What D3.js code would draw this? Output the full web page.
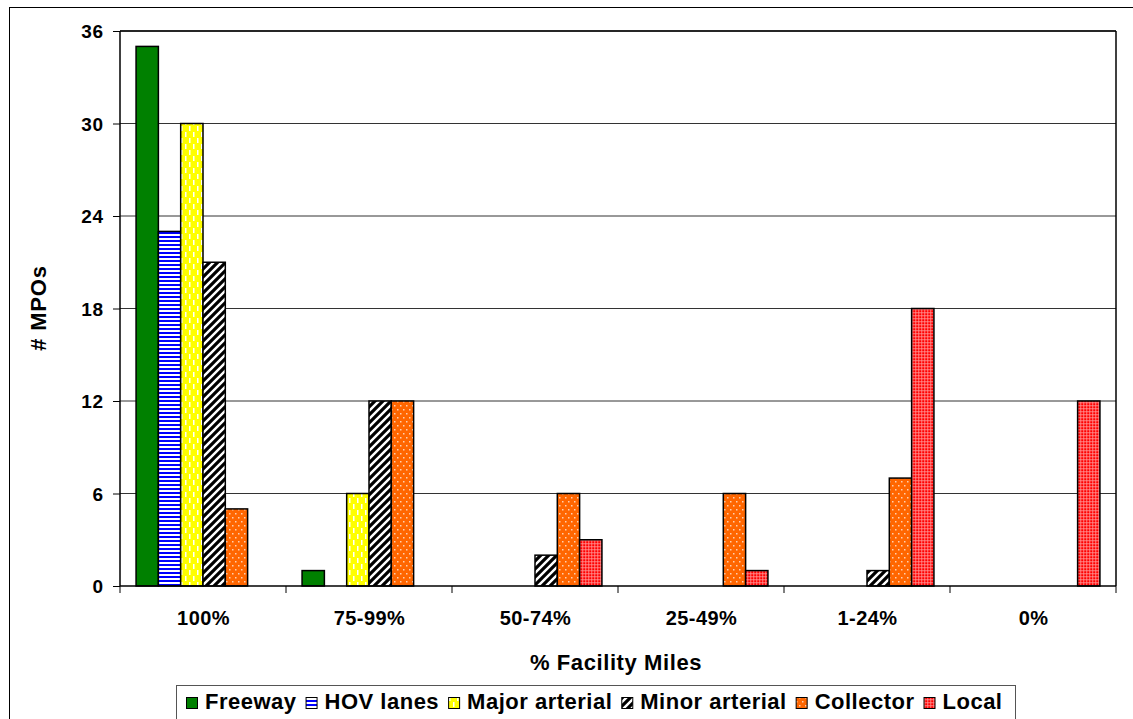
<!DOCTYPE html>
<html><head><meta charset="utf-8">
<script src="https://cdn.jsdelivr.net/npm/d3@7"></script>
<style>body{margin:0;background:#fff;}svg{display:block;font-family:"Liberation Sans",Arial,sans-serif;}</style>
</head><body>
<script>
const categories = ["100%","75-99%","50-74%","25-49%","1-24%","0%"];
const seriesNames = ["Freeway","HOV lanes","Major arterial","Minor arterial","Collector","Local"];
const freeway   = [35, 1, 0, 0, 0, 0];
const hovLanes  = [23, 0, 0, 0, 0, 0];
const majorArt  = [30, 6, 0, 0, 0, 0];
const minorArt  = [21, 12, 2, 0, 1, 0];
const collector = [5, 12, 6, 6, 7, 0];
const local     = [0, 0, 3, 1, 18, 12];
const yTicks = [0, 6, 12, 18, 24, 30, 36];
const seriesValues = [freeway, hovLanes, majorArt, minorArt, collector, local];

const W = 1133, H = 719;
const svg = d3.select("body").append("svg").attr("width", W).attr("height", H);
const defs = svg.append("defs");

function pat(id, w, h) {
  return defs.append("pattern").attr("id", id).attr("patternUnits", "userSpaceOnUse").attr("width", w).attr("height", h);
}
let p = pat("pHOV", 4, 4);
p.append("rect").attr("width", 4).attr("height", 4).attr("fill", "#fff");
p.append("rect").attr("width", 4).attr("height", 2).attr("fill", "#0000ff");
p = pat("pMaj", 8, 12);
p.append("rect").attr("width", 8).attr("height", 12).attr("fill", "#ffff00");
p.append("rect").attr("x", 1).attr("y", 0).attr("width", 1.5).attr("height", 5).attr("fill", "#fff");
p.append("rect").attr("x", 5).attr("y", 6).attr("width", 1.5).attr("height", 5).attr("fill", "#fff");
p = pat("pMin", 8, 8);
p.append("rect").attr("width", 8).attr("height", 8).attr("fill", "#fff");
p.append("path").attr("d", "M-2,2 L2,-2 M0,8 L8,0 M6,10 L10,6").attr("stroke", "#000").attr("stroke-width", 3.2);
p = pat("pCol", 6, 8);
p.append("rect").attr("width", 6).attr("height", 8).attr("fill", "#ff6600");
p.append("rect").attr("x", 1).attr("y", 1).attr("width", 1.5).attr("height", 1.5).attr("fill", "#ffd0b0");
p.append("rect").attr("x", 4).attr("y", 5).attr("width", 1.5).attr("height", 1.5).attr("fill", "#ffd0b0");
p = pat("pLoc", 6, 6);
p.append("rect").attr("width", 6).attr("height", 6).attr("fill", "#ff0000");
p.append("path").attr("d", "M0,0.75 H6 M0,3.75 H6 M0.75,0 V6 M3.75,0 V6").attr("stroke", "#ff9a9a").attr("stroke-width", 0.8);
const fills = ["#008000", "url(#pHOV)", "url(#pMaj)", "url(#pMin)", "url(#pCol)", "url(#pLoc)"];

svg.append("rect").attr("x", 9.5).attr("y", 7.5).attr("width", 1140).attr("height", 730)
  .attr("fill", "none").attr("stroke", "#000").attr("stroke-width", 1);

const pLeft = 120, pRight = 1116, pTop = 31, pBottom = 586;
const x0 = d3.scaleBand().domain(categories).range([pLeft, pRight]).paddingInner(0).paddingOuter(0);
const x1 = d3.scaleBand().domain(seriesNames).range([0, x0.bandwidth()]).paddingOuter(0.72).paddingInner(0);
const y = d3.scaleLinear().domain([0, 36]).range([pBottom, pTop]);

svg.append("g").selectAll("line").data(yTicks.filter(d => d > 0)).join("line")
  .attr("x1", pLeft).attr("x2", pRight).attr("y1", d => y(d)).attr("y2", d => y(d))
  .attr("stroke", "#333").attr("stroke-width", 1);
svg.append("line").attr("x1", pRight).attr("x2", pRight).attr("y1", pTop).attr("y2", pBottom).attr("stroke", "#000").attr("stroke-width", 1.5);
svg.append("line").attr("x1", pLeft).attr("x2", pRight).attr("y1", pTop).attr("y2", pTop).attr("stroke", "#000").attr("stroke-width", 1.5);

const g = svg.append("g");
categories.forEach((c, ci) => {
  seriesNames.forEach((s, si) => {
    const v = seriesValues[si][ci];
    if (v <= 0) return;
    g.append("rect")
      .attr("x", x0(c) + x1(s))
      .attr("y", y(v))
      .attr("width", x1.bandwidth())
      .attr("height", y(0) - y(v))
      .attr("fill", fills[si])
      .attr("stroke", "#000").attr("stroke-width", 1.5);
  });
});

const yAxis = d3.axisLeft(y).tickValues(yTicks).tickSize(7).tickPadding(10);
const ya = svg.append("g").attr("transform", `translate(${pLeft},0)`).call(yAxis);
ya.select(".domain").attr("stroke", "#000").attr("stroke-width", 1.5).attr("d", `M0,${pTop}V${pBottom}`);
ya.selectAll(".tick line").attr("stroke", "#000");
ya.selectAll("text").attr("font-size", 19).attr("font-weight", "bold").attr("fill", "#000")
  .attr("letter-spacing", 0.5).attr("dx", 0.5).attr("dy", "0.36em")
  .attr("font-family", "Liberation Sans, Arial, sans-serif");

const xa = svg.append("g").attr("transform", `translate(0,${pBottom})`);
xa.append("line").attr("x1", pLeft).attr("x2", pRight).attr("stroke", "#000").attr("stroke-width", 1.5);
const bounds = categories.map(c => x0(c)).concat([pRight]);
xa.selectAll("line.tk").data(bounds).join("line").attr("class", "tk")
  .attr("x1", d => d).attr("x2", d => d).attr("y1", 0).attr("y2", 7).attr("stroke", "#000");
xa.selectAll("text").data(categories).join("text")
  .attr("x", d => x0(d) + x0.bandwidth() / 2 + 0.5).attr("y", 39)
  .attr("text-anchor", "middle").attr("font-size", 20).attr("letter-spacing", 0.4)
  .attr("font-weight", "bold").text(d => d);

svg.append("text").attr("x", 616).attr("y", 670).attr("text-anchor", "middle")
  .attr("font-size", 22).attr("letter-spacing", 0.6).attr("font-weight", "bold").text("% Facility Miles");
svg.append("text").attr("transform", "translate(46,308) rotate(-90)").attr("text-anchor", "middle")
  .attr("font-size", 22).attr("letter-spacing", 0.8).attr("font-weight", "bold").text("# MPOs");

svg.append("rect").attr("x", 176.5).attr("y", 685.5).attr("width", 839).attr("height", 60)
  .attr("fill", "#fff").attr("stroke", "#555").attr("stroke-width", 1);
let lx = 186;
seriesNames.forEach((s, i) => {
  svg.append("rect").attr("x", lx + 0.5).attr("y", 697.5).attr("width", 11).attr("height", 11)
    .attr("fill", fills[i]).attr("stroke", "#000").attr("stroke-width", 1);
  const t = svg.append("text").attr("x", lx + 19).attr("y", 709).attr("font-size", 22)
    .attr("letter-spacing", 0.5).attr("font-weight", "bold").text(s);
  lx = lx + 19 + t.node().getComputedTextLength() + 9;
});
</script>
</body></html>
